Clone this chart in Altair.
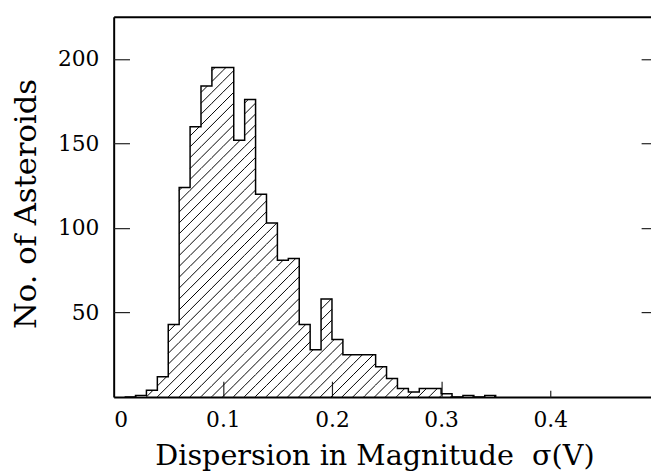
import math
import altair as alt
import pandas as pd

# ---- data (bin width 0.01) ----
bin_left = [0.02, 0.03, 0.04, 0.05, 0.06, 0.07, 0.08, 0.09, 0.10, 0.11,
            0.12, 0.13, 0.14, 0.15, 0.16, 0.17, 0.18, 0.19, 0.20, 0.21,
            0.22, 0.23, 0.24, 0.25, 0.26, 0.27, 0.28, 0.29, 0.30, 0.31,
            0.32, 0.33, 0.34]
counts = [1, 4, 12, 43, 124, 160, 184, 195, 195, 152,
          176, 120, 103, 81, 82, 43, 28, 58, 34, 25,
          25, 25, 18, 11, 5, 3, 5, 5, 2, 0,
          1, 0, 1]
BIN = 0.01
x_ticks_long = [0.1, 0.2, 0.3]
x_ticks_short = [0.4]
x_labels = [0, 0.1, 0.2, 0.3, 0.4]
y_ticks = [50, 100, 150, 200]

XMAX = 0.4923
YMAX = 225
W, H = 544, 385

# ---- outline (step) ----
ox = [bin_left[0] - BIN] + bin_left + [bin_left[-1] + BIN]
oy = [0] + counts + [0]
outline = pd.DataFrame({"x": ox, "y": oy})

# ---- hatch segments (45 deg in pixel space), clipped to each bar ----
kx, ky = W / XMAX, H / YMAX
S = 11.0
segs = []
for x0, h in zip(bin_left, counts):
    if h <= 0:
        continue
    u0, u1, vh = x0 * kx, (x0 + BIN) * kx, h * ky
    for n in range(math.floor((u0 - vh) / S), math.ceil(u1 / S) + 1):
        c = n * S
        ua, ub = max(u0, c), min(u1, c + vh)
        if ub - ua > 0.3:
            segs.append({"x": ua / kx, "y": (ua - c) / ky,
                         "x2": ub / kx, "y2": (ub - c) / ky})
hatch = pd.DataFrame(segs)

xs = alt.Scale(domain=[0, XMAX], nice=False, zero=False)
ys = alt.Scale(domain=[0, YMAX], nice=False, zero=False)

TICKC = "#222"
FONT = "DejaVu Serif"

ax_bottom = alt.Axis(orient="bottom", values=x_labels, format=".1~f", ticks=False,
                     tickSize=0, labelPadding=13, labelFont=FONT,
                     labelFontSize=22, labelColor="black", domainColor="black",
                     domainWidth=2, grid=False,
                     title="Dispersion in Magnitude\u00a0\u00a0\u03c3(V)",
                     titleFont=FONT, titleFontSize=29,
                     titleFontWeight="normal", titleColor="black",
                     titleX=264, titleY=68, titleBaseline="alphabetic",
                     titleAlign="center", titleAnchor="start")
ax_left = alt.Axis(orient="left", values=y_ticks, ticks=False, tickSize=0,
                   labelPadding=15, labelFont=FONT, labelFontSize=22,
                   labelColor="black", domainColor="black", domainWidth=2,
                   grid=False, title="No. of Asteroids",
                   titleFont=FONT, titleFontSize=31,
                   titleFontWeight="normal", titleColor="black",
                   titleX=-79, titleY=189, titleBaseline="alphabetic",
                   titleAlign="center", titleAngle=270, titleAnchor="start")

ax_xticks = alt.Axis(orient="top", offset=-H, values=x_ticks_long, labels=False,
                     domain=False, tickSize=16, tickWidth=1.2, tickColor=TICKC,
                     grid=False, title=None)
ax_xticks2 = alt.Axis(orient="top", offset=-H, values=x_ticks_short, labels=False,
                      domain=False, tickSize=7, tickWidth=1.2, tickColor=TICKC,
                      grid=False, title=None)
ax_top = alt.Axis(orient="top", labels=False, ticks=False, domain=True,
                  domainColor="black", domainWidth=2, grid=False, title=None)
ax_yticks_l = alt.Axis(orient="right", offset=-W, values=y_ticks, labels=False,
                       domain=False, tickSize=16, tickWidth=1.2, tickColor=TICKC,
                       grid=False, title=None)
ax_yticks_r = alt.Axis(orient="left", offset=-W, values=y_ticks, labels=False,
                       domain=False, tickSize=10, tickWidth=1.2, tickColor=TICKC,
                       grid=False, title=None)

hatch_layer = alt.Chart(hatch).mark_rule(color="black", strokeWidth=1).encode(
    x=alt.X("x:Q", scale=xs, axis=ax_bottom),
    x2="x2:Q",
    y=alt.Y("y:Q", scale=ys, axis=ax_left),
    y2="y2:Q",
)

outline_layer = alt.Chart(outline).mark_line(
    color="black", strokeWidth=1.5, interpolate="step-after"
).encode(
    x=alt.X("x:Q", scale=xs, axis=ax_xticks),
    y=alt.Y("y:Q", scale=ys, axis=ax_yticks_l),
)

ghost1 = alt.Chart(outline).mark_line(opacity=0).encode(
    x=alt.X("x:Q", scale=xs, axis=ax_xticks2),
    y=alt.Y("y:Q", scale=ys, axis=ax_yticks_r),
)
ghost2 = alt.Chart(outline).mark_line(opacity=0).encode(
    x=alt.X("x:Q", scale=xs, axis=ax_top),
    y=alt.Y("y:Q", scale=ys, axis=None),
)

chart = alt.layer(hatch_layer, outline_layer, ghost1, ghost2).resolve_axis(
    x="independent", y="independent"
).properties(
    width=W, height=H,
    autosize=alt.AutoSizeParams(type="none"),
    padding={"left": 107, "top": 6, "right": 0, "bottom": 75},
    background="white",
).configure_view(stroke=None)

chart.save("out.html", embed_options={"renderer": "svg", "actions": False})
